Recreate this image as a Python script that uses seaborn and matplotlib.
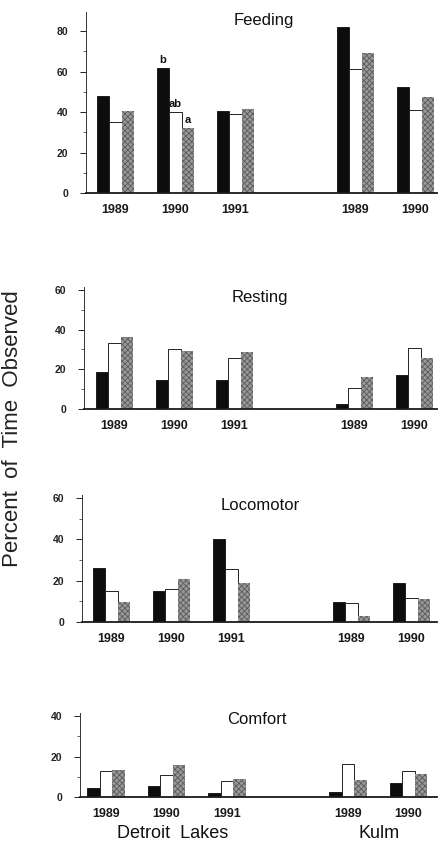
import matplotlib
matplotlib.use("Agg")
import matplotlib.pyplot as plt
import seaborn as sns
import pandas as pd

# ---------------- data ----------------
slots = ["DL 1989", "DL 1990", "DL 1991", "Kulm 1989", "Kulm 1990"]
slot_order = ["DL 1989", "DL 1990", "DL 1991", "gap", "Kulm 1989", "Kulm 1990"]
tick_labels = ["1989", "1990", "1991", "", "1989", "1990"]
groups = ["Group 1", "Group 2", "Group 3"]

feeding_g1 = [48, 62, 40.5, 82, 52.5]
feeding_g2 = [35, 40, 39, 61.5, 41]
feeding_g3 = [40.5, 32, 41.5, 69, 47.5]

resting_g1 = [18.5, 14.5, 14.5, 2.5, 17]
resting_g2 = [33.5, 30, 25.5, 10.5, 30.5]
resting_g3 = [36.5, 29, 28.5, 16, 25.5]

locomotor_g1 = [26, 15, 40, 9.5, 19]
locomotor_g2 = [15, 16, 25.5, 9, 11.5]
locomotor_g3 = [9.5, 21, 19, 3, 11]

comfort_g1 = [4.5, 5.5, 2, 2.5, 7]
comfort_g2 = [13, 11, 8, 16.5, 13]
comfort_g3 = [13.5, 16, 9, 8.5, 11.5]

panels = [
    ("Feeding", [feeding_g1, feeding_g2, feeding_g3], [0, 20, 40, 60, 80]),
    ("Resting", [resting_g1, resting_g2, resting_g3], [0, 20, 40, 60]),
    ("Locomotor", [locomotor_g1, locomotor_g2, locomotor_g3], [0, 20, 40, 60]),
    ("Comfort", [comfort_g1, comfort_g2, comfort_g3], [0, 20, 40]),
]
site_labels = ["Detroit  Lakes", "Kulm"]
y_label = "Percent  of  Time  Observed"
sig_letters = ["b", "ab", "a"]

# ---------------- layout (pixel based) ----------------
W, H = 440, 844
layout = {
    "Feeding":   dict(L=86, base=193, top=12,  c0=115.5, sp=60.0, ytop=89.5, title=(264, 20)),
    "Resting":   dict(L=84, base=409, top=287, c0=114.5, sp=60.0, ytop=61.5, title=(260, 298)),
    "Locomotor": dict(L=82, base=622, top=495, c0=111.5, sp=60.0, ytop=61.5, title=(260, 505)),
    "Comfort":   dict(L=80, base=797, top=713, c0=106.0, sp=60.5, ytop=41.5, title=(257, 719)),
}
R = 437

sns.set_style("white")
plt.rcParams["font.family"] = ["Liberation Sans", "DejaVu Sans"]
plt.rcParams["hatch.linewidth"] = 0.6

fig = plt.figure(figsize=(W / 100, H / 100), dpi=100)

styles = [
    dict(facecolor="#0d0d0d", edgecolor="#0d0d0d", hatch=None, lw=0.6),
    dict(facecolor="white", edgecolor="#222222", hatch=None, lw=0.7),
    dict(facecolor="#999999", edgecolor="#5a5a5a", hatch="xxxxxx", lw=0.0),
]

for name, series, yticks in panels:
    lay = layout[name]
    rect = [lay["L"] / W, 1 - lay["base"] / H, (R - lay["L"]) / W,
            (lay["base"] - lay["top"]) / H]
    ax = fig.add_axes(rect)
    rows = []
    for g, vals in zip(groups, series):
        for s, v in zip(slots, vals):
            rows.append({"slot": s, "group": g, "value": v})
    df = pd.DataFrame(rows)
    sns.barplot(data=df, x="slot", y="value", hue="group", order=slot_order,
                hue_order=groups, width=0.62, gap=0, errorbar=None,
                legend=False, ax=ax, palette=["#0d0d0d", "white", "#999999"])
    for cont, st in zip(ax.containers, styles):
        for p in cont.patches:
            p.set_facecolor(st["facecolor"])
            p.set_edgecolor(st["edgecolor"])
            p.set_linewidth(st["lw"])
            if st["hatch"]:
                p.set_hatch(st["hatch"])
    ax.set_xlim((lay["L"] - lay["c0"]) / lay["sp"], (R - lay["c0"]) / lay["sp"])
    ax.set_ylim(0, lay["ytop"])
    ax.set_yticks(yticks)
    ax.set_yticks([t + 10 for t in yticks[:-1]], minor=True)
    ax.set_xticks(range(len(slot_order)))
    ax.set_xticklabels(tick_labels)
    ax.set_xlabel("")
    ax.set_ylabel("")
    for sp in ["top", "right"]:
        ax.spines[sp].set_visible(False)
    ax.spines["left"].set_linewidth(0.7)
    ax.spines["left"].set_color("#333333")
    ax.spines["bottom"].set_linewidth(1.3)
    ax.spines["bottom"].set_color("#1a1a1a")
    ax.tick_params(axis="y", which="major", left=True, length=4, width=0.7,
                   pad=9, labelsize=7.5, colors="#222222")
    ax.tick_params(axis="y", which="minor", left=True, length=2, width=0.5)
    ax.tick_params(axis="x", length=0, pad=8, labelsize=9, colors="#1a1a1a")
    for lab in ax.get_xticklabels() + ax.get_yticklabels():
        lab.set_fontweight("bold")
    ax.patch.set_alpha(0)
    tx, ty = lay["title"]
    fig.text(tx / W, 1 - ty / H, name, ha="center", va="center", fontsize=12,
             color="#111111")
    if name == "Feeding":
        for cont, letter in zip(ax.containers, sig_letters):
            p = cont.patches[1]
            ax.text(p.get_x() + p.get_width() / 2, p.get_height() + 1.5, letter,
                    ha="center", va="bottom", fontsize=8, fontweight="bold",
                    color="#111111")

fig.text(173 / W, 1 - 833 / H, site_labels[0], ha="center", va="center",
         fontsize=13, color="#111111")
fig.text(379 / W, 1 - 834 / H, site_labels[1], ha="center", va="center",
         fontsize=13, color="#111111")
fig.text(13 / W, 1 - 429 / H, y_label, ha="center", va="center",
         rotation=90, fontsize=16, color="#222222")

fig.savefig("out.png", dpi=100)
